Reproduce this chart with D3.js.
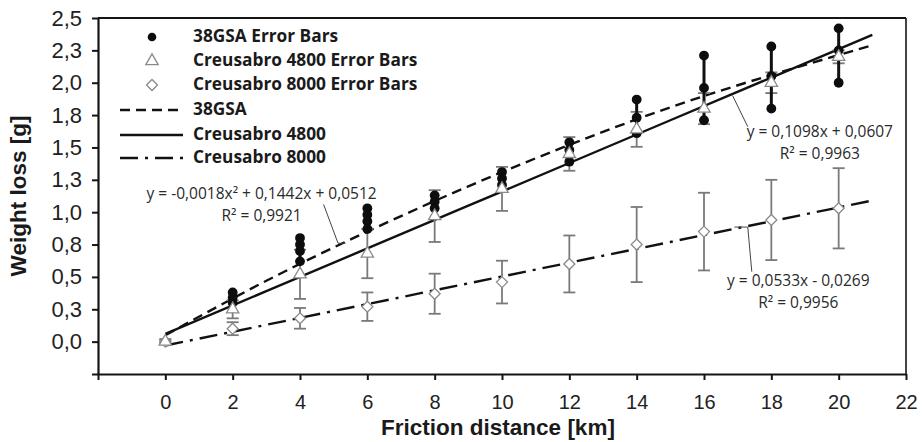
<!DOCTYPE html>
<html>
<head>
<meta charset="utf-8">
<script src="https://cdn.jsdelivr.net/npm/d3@7"></script>
<style>
  html, body { margin: 0; padding: 0; background: #fff; }
  svg { display: block; }
</style>
</head>
<body>
<svg id="chart" width="922" height="442"></svg>
<script>
// ---------- DATA ----------
const distances = [0, 2, 4, 6, 8, 10, 12, 14, 16, 18, 20];
// 38GSA individual measurements at each distance
const gsaValues = [
  [],
  [0.38, 0.34, 0.30],
  [0.80, 0.75, 0.70, 0.62],
  [1.03, 0.98, 0.93, 0.87],
  [1.13, 1.08, 1.03],
  [1.31, 1.26, 1.21],
  [1.54, 1.48, 1.39],
  [1.87, 1.73, 1.61],
  [2.21, 1.96, 1.71],
  [2.28, 2.05, 1.80],
  [2.42, 2.25, 2.00]
];
const c4800Mean = [0.00, 0.25, 0.52, 0.68, 0.97, 1.18, 1.45, 1.64, 1.80, 2.00, 2.20];
const c4800Err  = [0.02, 0.07, 0.19, 0.19, 0.20, 0.17, 0.13, 0.135, 0.12, 0.08, 0.05];
const c8000Mean = [0.00, 0.10, 0.18, 0.27, 0.37, 0.46, 0.60, 0.75, 0.85, 0.94, 1.03];
const c8000Err  = [0.01, 0.05, 0.08, 0.11, 0.155, 0.165, 0.22, 0.29, 0.30, 0.31, 0.31];
// trend lines
const trendX      = [0, 3, 6, 9, 12, 15, 18, 21];
const gsaTrend    = [0.05, 0.47, 0.85, 1.20, 1.52, 1.81, 2.06, 2.29];
const c4800Trend  = [0.06, 0.39, 0.72, 1.05, 1.38, 1.71, 2.04, 2.37];
const c8000Trend  = [-0.03, 0.13, 0.29, 0.45, 0.61, 0.77, 0.93, 1.09];
// ticks
const xTicks = [-2, 0, 2, 4, 6, 8, 10, 12, 14, 16, 18, 20, 22];
const xTickLabels = ["", "0", "2", "4", "6", "8", "10", "12", "14", "16", "18", "20", "22"];
const yTicks = [-0.25, 0, 0.25, 0.5, 0.75, 1.0, 1.25, 1.5, 1.75, 2.0, 2.25, 2.5];
const yTickLabels = ["", "0,0", "0,3", "0,5", "0,8", "1,0", "1,3", "1,5", "1,8", "2,0", "2,3", "2,5"];
const legendLabels = ["38GSA Error Bars", "Creusabro 4800 Error Bars", "Creusabro 8000 Error Bars", "38GSA", "Creusabro 4800", "Creusabro 8000"];
const eqLabels = [
  ["y = -0,0018x² + 0,1442x + 0,0512", "R² = 0,9921"],
  ["y = 0,1098x + 0,0607", "R² = 0,9963"],
  ["y = 0,0533x - 0,0269", "R² = 0,9956"]
];
const xTitle = "Friction distance [km]";
const yTitle = "Weight loss [g]";

// ---------- LAYOUT ----------
const svg = d3.select("#chart");
const X0 = 98, X1 = 906, Y0 = 374, Y1 = 18;
const x = d3.scaleLinear().domain([-2, 22]).range([X0, X1]);
const y = d3.scaleLinear().domain([-0.25, 2.5]).range([Y0, Y1]);

const axisColor = "#151515";
const grayBar = "#7a7a7a";
const grayMarker = "#8a8a8a";

// frame (top/right)
svg.append("line").attr("x1", X0).attr("x2", X1).attr("y1", Y1).attr("y2", Y1)
  .attr("stroke", axisColor).attr("stroke-width", 2);
svg.append("line").attr("x1", X1).attr("x2", X1).attr("y1", Y1).attr("y2", Y0)
  .attr("stroke", axisColor).attr("stroke-width", 1.6);

// axes
const xAxis = d3.axisBottom(x).tickValues(xTicks).tickSize(6).tickSizeOuter(0)
  .tickFormat((d, i) => xTickLabels[i]);
const gx = svg.append("g").attr("transform", `translate(0,${Y0})`).call(xAxis);
gx.select(".domain").attr("stroke", axisColor).attr("stroke-width", 2.2);
gx.selectAll(".tick line").attr("stroke", axisColor).attr("stroke-width", 2);
gx.selectAll(".tick text").attr("font-family", "Liberation Sans, Arial, sans-serif")
  .attr("font-size", 20).attr("fill", "#222").attr("dy", "1.3em");

const yAxis = d3.axisLeft(y).tickValues(yTicks).tickSize(6).tickSizeOuter(0)
  .tickFormat((d, i) => yTickLabels[i]);
const gy = svg.append("g").attr("transform", `translate(${X0},0)`).call(yAxis);
gy.select(".domain").attr("stroke", axisColor).attr("stroke-width", 2.2);
gy.selectAll(".tick line").attr("stroke", axisColor).attr("stroke-width", 2);
gy.selectAll(".tick text").attr("font-family", "Liberation Sans, Arial, sans-serif")
  .attr("font-size", 22).attr("fill", "#222").attr("x", -16);

// axis titles
svg.append("text").attr("x", 498).attr("y", 435).attr("text-anchor", "middle")
  .attr("font-family", "Liberation Sans, Arial, sans-serif").attr("font-weight", "bold")
  .attr("font-size", 22.5).attr("fill", "#1a1a1a").text(xTitle);
svg.append("text").attr("transform", "translate(26,196) rotate(-90)").attr("text-anchor", "middle")
  .attr("font-family", "Liberation Sans, Arial, sans-serif").attr("font-weight", "bold")
  .attr("font-size", 22.5).attr("fill", "#1a1a1a").text(yTitle);

// ---------- TREND LINES ----------
const lineGen = d3.line().x(d => x(d[0])).y(d => y(d[1]));
const plot = svg.append("g");
plot.append("path").datum(trendX.map((v, i) => [v, c8000Trend[i]]))
  .attr("d", lineGen).attr("fill", "none").attr("stroke", "#111").attr("stroke-width", 2.4)
  .attr("stroke-dasharray", "18,7,3,7");
plot.append("path").datum(trendX.map((v, i) => [v, gsaTrend[i]]))
  .attr("d", lineGen.curve(d3.curveNatural)).attr("fill", "none").attr("stroke", "#111").attr("stroke-width", 2.4)
  .attr("stroke-dasharray", "10,6");
lineGen.curve(d3.curveLinear);
plot.append("path").datum(trendX.map((v, i) => [v, c4800Trend[i]]))
  .attr("d", lineGen).attr("fill", "none").attr("stroke", "#111").attr("stroke-width", 2.4);

// ---------- ERROR BARS ----------
function errorBars(means, errs, color) {
  const g = plot.append("g").attr("stroke", color).attr("stroke-width", 1.8).attr("fill", "none");
  distances.forEach((d, i) => {
    const cx = x(d), top = y(means[i] + errs[i]), bot = y(means[i] - errs[i]);
    g.append("line").attr("x1", cx).attr("x2", cx).attr("y1", top).attr("y2", bot);
    g.append("line").attr("x1", cx - 6).attr("x2", cx + 6).attr("y1", top).attr("y2", top);
    g.append("line").attr("x1", cx - 6).attr("x2", cx + 6).attr("y1", bot).attr("y2", bot);
  });
}
errorBars(c8000Mean, c8000Err, grayBar);
errorBars(c4800Mean, c4800Err, grayBar);

// 38GSA: black range bars and filled circles
const gsaG = plot.append("g");
distances.forEach((d, i) => {
  const vals = gsaValues[i];
  if (!vals.length) return;
  gsaG.append("line").attr("x1", x(d)).attr("x2", x(d))
    .attr("y1", y(d3.max(vals))).attr("y2", y(d3.min(vals)))
    .attr("stroke", "#111").attr("stroke-width", 3);
});

const tri = d3.symbol().type(d3.symbolTriangle).size(66);
const diaR = 5.5;
const dia = `M0,${-diaR}L${diaR},0L0,${diaR}L${-diaR},0Z`;

// markers
plot.append("g").selectAll("path").data(distances).join("path")
  .attr("d", dia).attr("transform", (d, i) => `translate(${x(d)},${y(c8000Mean[i])})`)
  .attr("fill", "#fff").attr("stroke", grayMarker).attr("stroke-width", 1.3);
plot.append("g").selectAll("path").data(distances).join("path")
  .attr("d", tri).attr("transform", (d, i) => `translate(${x(d)},${y(c4800Mean[i])})`)
  .attr("fill", "#fff").attr("stroke", grayMarker).attr("stroke-width", 1.3);

const gsaPts = [];
distances.forEach((d, i) => gsaValues[i].forEach(v => gsaPts.push([d, v])));
gsaG.selectAll("circle").data(gsaPts).join("circle")
  .attr("cx", d => x(d[0])).attr("cy", d => y(d[1])).attr("r", 4.9).attr("fill", "#0d0d0d");

// ---------- EQUATION LABELS ----------
const eqFont = "Open Sans, sans-serif";
const eqPos = [[2.86, 1.13], [19.44, 1.61], [18.8, 0.46]];
const leaders = [
  [[4.7, 1.06], [5.13, 0.76], [5.35, 0.76]],
  [[16.85, 1.90], [17.3, 1.66]],
  [[16.9, 0.885], [17.3, 0.885], [17.42, 0.54]]
];
leaders.forEach(pts => {
  svg.append("path").attr("d", d3.line().x(p => x(p[0])).y(p => y(p[1]))(pts))
    .attr("fill", "none").attr("stroke", "#444").attr("stroke-width", 1);
});
eqLabels.forEach((lab, k) => {
  const [ex, ey] = eqPos[k];
  lab.forEach((t, j) => {
    svg.append("text").attr("x", x(ex)).attr("y", y(ey) + j * 22)
      .attr("text-anchor", "middle").attr("dominant-baseline", "middle")
      .attr("font-family", eqFont).attr("font-size", 15.5).attr("fill", "#2a2a2a").text(t);
  });
});

// ---------- LEGEND ----------
const leg = svg.append("g");
const legRowY = [37, 61, 85, 110, 135, 158];
legendLabels.forEach((t, i) => {
  leg.append("text").attr("x", 193).attr("y", legRowY[i]).attr("dominant-baseline", "middle")
    .attr("font-family", "Open Sans, sans-serif").attr("font-weight", "bold")
    .attr("font-size", 17.3).attr("fill", "#1a1a1a").text(t);
});
leg.append("circle").attr("cx", 152).attr("cy", legRowY[0]).attr("r", 4.3).attr("fill", "#0d0d0d");
leg.append("path").attr("d", tri).attr("transform", `translate(152,${legRowY[1]})`)
  .attr("fill", "#fff").attr("stroke", grayMarker).attr("stroke-width", 1.3);
leg.append("path").attr("d", dia).attr("transform", `translate(152,${legRowY[2]})`)
  .attr("fill", "#fff").attr("stroke", grayMarker).attr("stroke-width", 1.3);
const legDash = ["10,6", null, "18,7,3,7"];
legDash.forEach((da, k) => {
  const l = leg.append("line").attr("x1", 120).attr("x2", 183)
    .attr("y1", legRowY[3 + k]).attr("y2", legRowY[3 + k])
    .attr("stroke", "#111").attr("stroke-width", 2.4);
  if (da) l.attr("stroke-dasharray", da);
});
</script>
</body>
</html>
